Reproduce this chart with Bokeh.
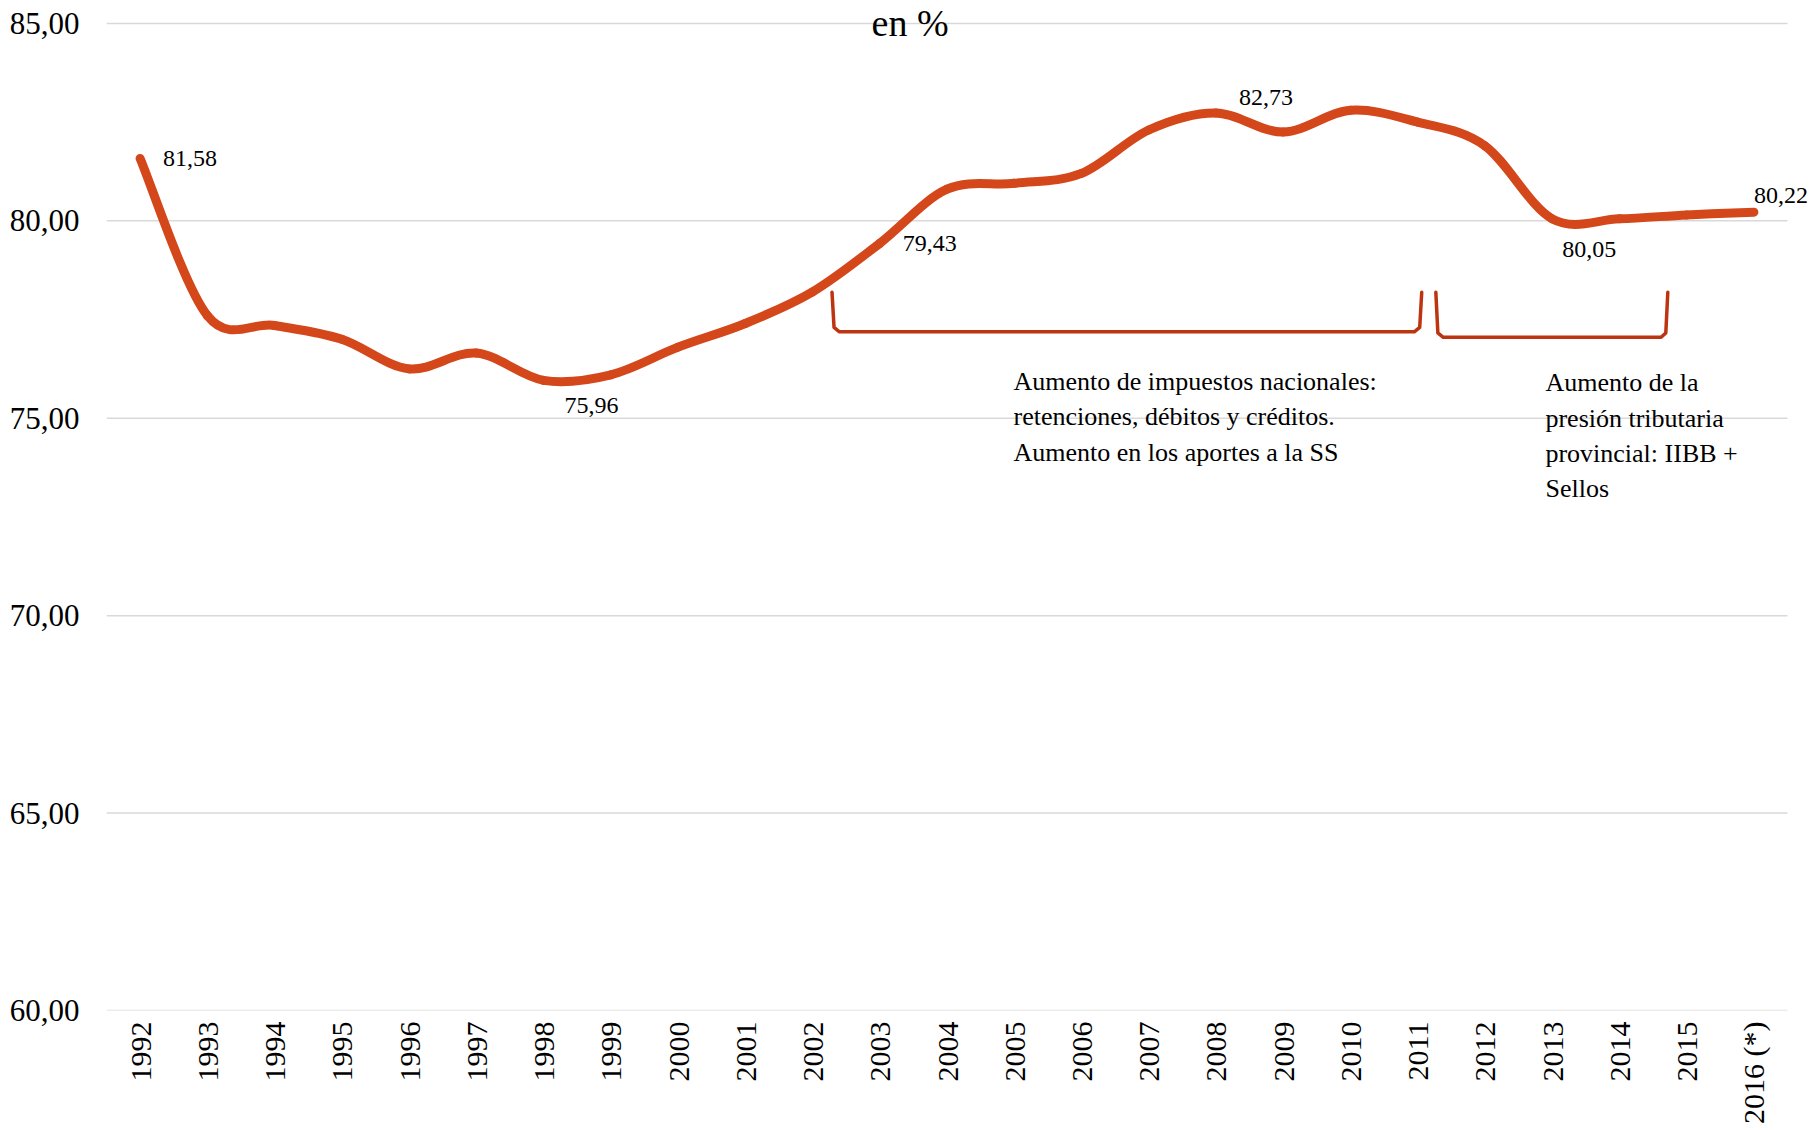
import math
from bokeh.plotting import figure
from bokeh.models import Range1d, FixedTicker, Label, ColumnDataSource
from bokeh.embed import file_html
from bokeh.resources import INLINE
import numpy as np

# ---------------- data ----------------
years = ["1992", "1993", "1994", "1995", "1996", "1997", "1998", "1999", "2000",
         "2001", "2002", "2003", "2004", "2005", "2006", "2007", "2008", "2009",
         "2010", "2011", "2012", "2013", "2014", "2015", "2016 (*)"]
values = [81.58, 77.60, 77.35, 77.00, 76.25, 76.65, 75.96, 76.10, 76.80,
          77.40, 78.20, 79.43, 80.80, 80.95, 81.20, 82.30, 82.73, 82.25,
          82.80, 82.50, 81.90, 80.05, 80.05, 80.15, 80.22]
y_ticks = [60, 65, 70, 75, 80, 85]
y_tick_labels = ["60,00", "65,00", "70,00", "75,00", "80,00", "85,00"]
labeled_years = ["1992", "1998", "2003", "2008", "2013", "2016 (*)"]

title_text = "en %"
note1_lines = ["Aumento de impuestos nacionales:",
               "retenciones, débitos y créditos.",
               "Aumento en los aportes a la  SS"]
note2_lines = ["Aumento de la", "presión tributaria",
               "provincial: IIBB +", "Sellos"]

FONT = "Liberation Serif"
LINE_COLOR = "#D4471A"
BRACKET_COLOR = "#BC3510"
GRID_COLOR = "#D9D9D9"

n = len(values)
xs = np.arange(n, dtype=float)
ys = np.array(values, dtype=float)

# frame extends to the right canvas edge so the last data label is not clipped;
# grid lines are drawn only over the category span
p = figure(width=1810, height=1128, output_backend="svg", toolbar_location=None,
           x_range=Range1d(-0.5, 24.842), y_range=Range1d(60, 85.58),
           min_border_left=106, min_border_right=0, min_border_top=0,
           min_border_bottom=118)
p.outline_line_color = None
p.background_fill_color = "white"

# axes
p.yaxis.ticker = FixedTicker(ticks=y_ticks)
p.yaxis.major_label_overrides = {t: s for t, s in zip(y_ticks, y_tick_labels)}
p.xaxis.ticker = FixedTicker(ticks=list(range(n)))
p.xaxis.major_label_overrides = {i: y for i, y in enumerate(years)}
p.xaxis.major_label_orientation = math.pi / 2
for ax in (p.xaxis, p.yaxis):
    ax.axis_line_color = None
    ax.major_tick_line_color = None
    ax.minor_tick_line_color = None
    ax.major_tick_out = 0
    ax.major_tick_in = 0
    ax.major_label_text_font = FONT
    ax.major_label_text_color = "#000000"
p.yaxis.major_label_text_font_size = "31px"
p.yaxis.major_label_standoff = 27
p.xaxis.major_label_text_font_size = "30px"
p.xaxis.major_label_standoff = 11

p.xgrid.grid_line_color = None
p.ygrid.grid_line_color = None
p.segment(x0=[-0.5] * len(y_ticks), y0=y_ticks, x1=[n - 0.5] * len(y_ticks),
          y1=y_ticks, line_color=GRID_COLOR, line_width=1.5)

# smoothed line (Catmull-Rom style bezier segments through the data points)
x0 = xs[:-1]; y0 = ys[:-1]
x1 = xs[1:]; y1 = ys[1:]
xm = np.concatenate([[xs[0]], xs[:-2]]); ym = np.concatenate([[ys[0]], ys[:-2]])
xp = np.concatenate([xs[2:], [xs[-1]]]); yp = np.concatenate([ys[2:], [ys[-1]]])
src = ColumnDataSource(dict(
    x0=x0, y0=y0, x1=x1, y1=y1,
    cx0=x0 + (x1 - xm) / 6.0, cy0=y0 + (y1 - ym) / 6.0,
    cx1=x1 - (xp - x0) / 6.0, cy1=y1 - (yp - y0) / 6.0))
p.bezier(x0="x0", y0="y0", x1="x1", y1="y1", cx0="cx0", cy0="cy0",
         cx1="cx1", cy1="cy1", source=src, line_color=LINE_COLOR,
         line_width=9, line_cap="round")

# data labels
label_offsets = {"1992": (23, 0), "1998": (21, -25), "2003": (23, 0),
                 "2008": (23, 16), "2013": (10, -31), "2016 (*)": (0, 17)}
for yr in labeled_years:
    i = years.index(yr)
    dx, dy = label_offsets[yr]
    p.add_layout(Label(x=xs[i], y=ys[i], x_offset=dx, y_offset=dy,
                       text=f"{values[i]:.2f}".replace(".", ","),
                       text_font=FONT, text_font_size="24px",
                       text_color="#000000", text_align="left",
                       text_baseline="middle"))

# title
p.add_layout(Label(x=11.45, y=85.55, text=title_text, text_font=FONT,
                   text_font_size="38px", text_color="#000000",
                   text_align="center", text_baseline="top"))

# brackets
b1x = [10.29, 10.32, 10.40, 18.95, 19.03, 19.06]
b1y = [78.19, 77.30, 77.19, 77.19, 77.30, 78.19]
b2x = [19.27, 19.30, 19.38, 22.62, 22.69, 22.72]
b2y = [78.19, 77.16, 77.05, 77.05, 77.16, 78.19]
for bx, by in ((b1x, b1y), (b2x, b2y)):
    p.line(bx, by, line_color=BRACKET_COLOR, line_width=3.5,
           line_join="round", line_cap="round")

# notes
for k, line in enumerate(note1_lines):
    p.add_layout(Label(x=12.99, y=75.93 - k * 0.895, text=line, text_font=FONT,
                       text_font_size="26px", text_color="#000000",
                       text_align="left", text_baseline="middle"))
for k, line in enumerate(note2_lines):
    p.add_layout(Label(x=20.90, y=75.90 - k * 0.897, text=line, text_font=FONT,
                       text_font_size="26px", text_color="#000000",
                       text_align="left", text_baseline="middle"))

open("out.html", "w").write(file_html(p, INLINE))
